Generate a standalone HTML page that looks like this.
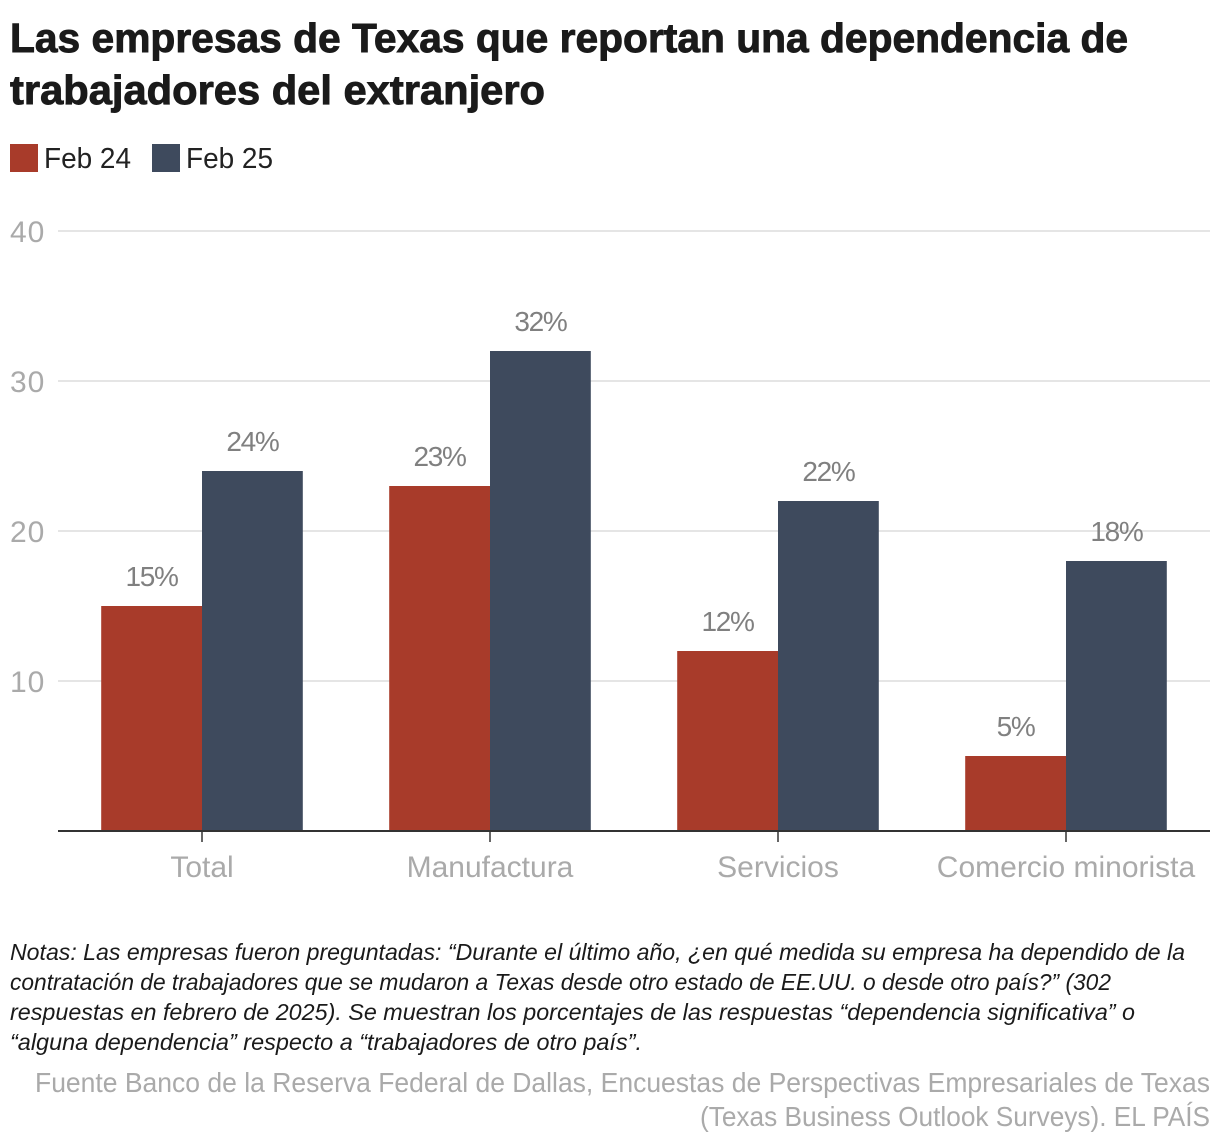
<!DOCTYPE html>
<html lang="es">
<head>
<meta charset="utf-8">
<title>Las empresas de Texas que reportan una dependencia de trabajadores del extranjero</title>
<style>
  html, body { margin: 0; padding: 0; background: #fff; }
  svg { display: block; font-family: "Liberation Sans", sans-serif; }
  .title { font-size: 41px; font-weight: 700; fill: #1a1a1a; stroke: #1a1a1a; stroke-width: .9px; }
  .legend { font-size: 29px; fill: #222; }
  .ytick { font-size: 30px; fill: #aaa; letter-spacing: 1px; }
  .xtick { font-size: 30px; fill: #aaa; text-anchor: middle; }
  .value { font-size: 28px; fill: #808080; text-anchor: middle; letter-spacing: -1.3px; }
  .note { font-size: 23px; font-style: italic; fill: #1a1a1a; }
  .source { font-size: 28px; fill: #aaa; text-anchor: end; }
</style>
</head>
<body>
<svg id="chart" width="1220" height="1146" viewBox="0 0 1220 1146" xmlns="http://www.w3.org/2000/svg">
  <g>
    <text class="title" x="10" y="52" textLength="1118" lengthAdjust="spacingAndGlyphs">Las empresas de Texas que reportan una dependencia de</text>
    <text class="title" x="10" y="104" textLength="535" lengthAdjust="spacingAndGlyphs">trabajadores del extranjero</text>
  </g>
  <g>
    <rect x="10" y="144" width="28" height="28" fill="#a83b2a"></rect>
    <text class="legend" x="44" y="168" textLength="87" lengthAdjust="spacingAndGlyphs">Feb 24</text>
    <rect x="152" y="144" width="28" height="28" fill="#3e4a5d"></rect>
    <text class="legend" x="186" y="168" textLength="87" lengthAdjust="spacingAndGlyphs">Feb 25</text>
  </g>
  <g id="plot"></g>
  <g>
    <text class="note" x="10" y="960" textLength="1175" lengthAdjust="spacingAndGlyphs">Notas: Las empresas fueron preguntadas: “Durante el último año, ¿en qué medida su empresa ha dependido de la</text>
    <text class="note" x="10" y="990" textLength="1101" lengthAdjust="spacingAndGlyphs">contratación de trabajadores que se mudaron a Texas desde otro estado de EE.UU. o desde otro país?” (302</text>
    <text class="note" x="10" y="1020" textLength="1125" lengthAdjust="spacingAndGlyphs">respuestas en febrero de 2025). Se muestran los porcentajes de las respuestas “dependencia significativa” o</text>
    <text class="note" x="10" y="1050" textLength="632" lengthAdjust="spacingAndGlyphs">“alguna dependencia” respecto a “trabajadores de otro país”.</text>
  </g>
  <g>
    <text class="source" x="1210" y="1092" textLength="1175" lengthAdjust="spacingAndGlyphs">Fuente Banco de la Reserva Federal de Dallas, Encuestas de Perspectivas Empresariales de Texas</text>
    <text class="source" x="1210" y="1126" textLength="510" lengthAdjust="spacingAndGlyphs">(Texas Business Outlook Surveys). EL PAÍS</text>
  </g>
</svg>
<script>
var categories = ["Total", "Manufactura", "Servicios", "Comercio minorista"];
var feb24Values = [15, 23, 12, 5];
var feb25Values = [24, 32, 22, 18];
var yTickValues = [10, 20, 30, 40];

var NS = "http://www.w3.org/2000/svg";
var plot = document.getElementById("plot");
var plotLeft = 58, plotRight = 1210, plotBottom = 831, plotTop = 231, yMax = 40;
var barWidth = 100.8;
var RED = "#a83b2a", NAVY = "#3e4a5d";

function yScale(v) { return plotBottom - (v / yMax) * (plotBottom - plotTop); }
function xCenter(i) {
  var step = (plotRight - plotLeft) / categories.length;
  return plotLeft + step * (i + 0.5);
}
function make(tag, attrs, text) {
  var el = document.createElementNS(NS, tag);
  for (var k in attrs) el.setAttribute(k, attrs[k]);
  if (text !== undefined) el.textContent = text;
  plot.appendChild(el);
  return el;
}

yTickValues.forEach(function (t) {
  var line = make("line", { x1: plotLeft, x2: plotRight, y1: yScale(t), y2: yScale(t), stroke: "#e5e5e5", "stroke-width": 2 });
  
  
  var label = make("text", { "class": "ytick", x: 10, y: yScale(t) + 11 }, String(t));
  
  
});

function drawSeries(values, color, offset, seriesName) {
  values.forEach(function (v, i) {
    var top = yScale(v);
    var x = xCenter(i) + offset;
    var bar = make("rect", { x: x, y: top, width: barWidth, height: plotBottom - top, fill: color });
    
    
    bar.setAttribute('data-series', seriesName);
    var label = make("text", { "class": "value", x: x + barWidth / 2, y: top - 20 }, v + "%");
    
    
  });
}
drawSeries(feb24Values, RED, -barWidth, "feb-24");
drawSeries(feb25Values, NAVY, 0, "feb-25");

var axisLine = make("line", { x1: plotLeft, x2: plotRight, y1: plotBottom, y2: plotBottom, stroke: "#333", "stroke-width": 2 });



categories.forEach(function (c, i) {
  var cx = xCenter(i);
  var tick = make("line", { x1: cx, x2: cx, y1: plotBottom, y2: plotBottom + 11, stroke: "#333", "stroke-width": 1.5 });
  
  
  var label = make("text", { "class": "xtick", x: cx, y: 877 }, c);
  
  
});
</script>
</body>
</html>
